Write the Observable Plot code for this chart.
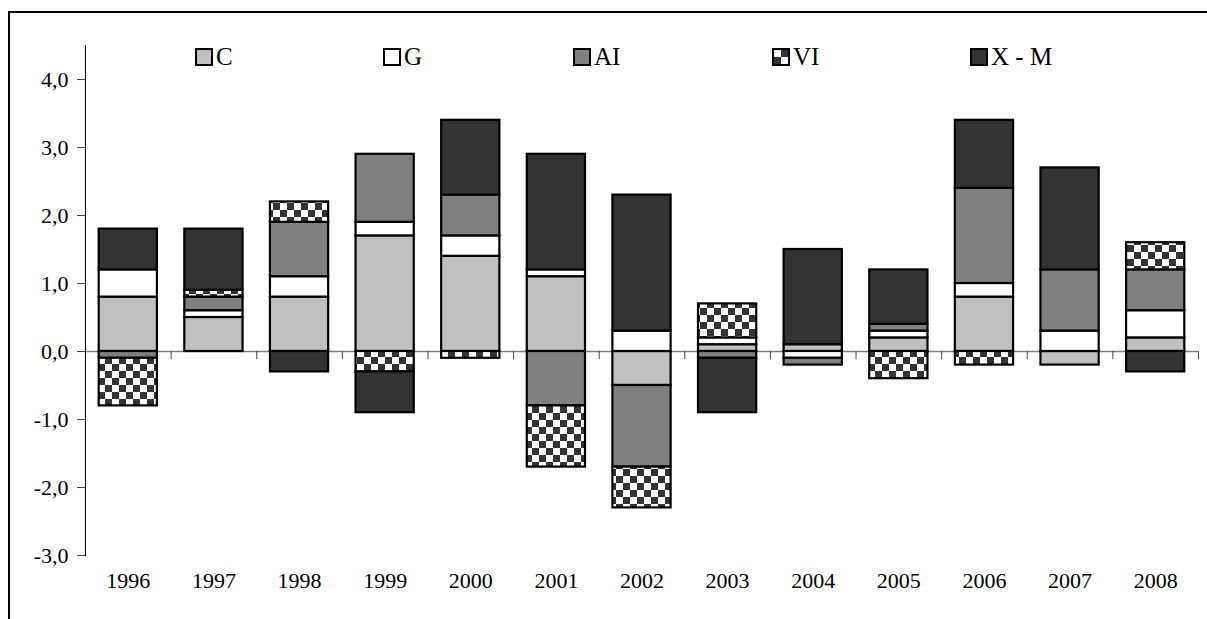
<!DOCTYPE html>
<html>
<head>
<meta charset="utf-8">
<script src="https://cdn.jsdelivr.net/npm/d3@7"></script>
<script src="https://cdn.jsdelivr.net/npm/@observablehq/plot@0.6"></script>
<style>
  html, body { margin: 0; padding: 0; background: #fff; overflow: hidden; }
  #wrap { position: relative; width: 1207px; height: 619px; font-family: "Liberation Serif", "Times New Roman", serif; }
  #border { position: absolute; left: 8px; top: 11px; width: 1300px; height: 800px; border: 2px solid #000; box-sizing: border-box; pointer-events: none; }
  #legend { position: absolute; left: 0; top: 44px; width: 1207px; height: 28px; font-size: 25px; color: #000; }
  .item { position: absolute; top: 0; display: flex; align-items: center; gap: 3px; line-height: 26px; height: 26px; }
  .item svg { display: block; }
  #chart { position: absolute; left: 0; top: 0; }
</style>
</head>
<body>
<div id="wrap">
  <div id="chart"></div>
  <div id="border"></div>
  <div id="legend"></div>
</div>
<script>
const years = ["1996","1997","1998","1999","2000","2001","2002","2003","2004","2005","2006","2007","2008"];
const seriesNames = ["C", "G", "AI", "VI", "X - M"];
const C  = [0.8, 0.5, 0.8, 1.7, 1.4, 1.1, -0.5, 0.1, 0.1, 0.2, 0.8, -0.2, 0.2];
const G  = [0.4, 0.1, 0.3, 0.2, 0.3, 0.1, 0.3, 0.1, -0.1, 0.1, 0.2, 0.3, 0.4];
const AI = [-0.1, 0.2, 0.8, 1.0, 0.6, -0.8, -1.2, -0.1, -0.1, 0.1, 1.4, 0.9, 0.6];
const VI = [-0.7, 0.1, 0.3, -0.3, -0.1, -0.9, -0.6, 0.5, 0, -0.4, -0.2, 0, 0.4];
const XM = [0.6, 0.9, -0.3, -0.6, 1.1, 1.7, 2.0, -0.8, 1.4, 0.8, 1.0, 1.5, -0.3];
const yTicks = [-3, -2, -1, 0, 1, 2, 3, 4];
const seriesFills = ["#c0c0c0", "#ffffff", "#808080", "url(#checker)", "#333333"];
const legendLeft = [195, 383, 573, 772, 970];

const seriesValues = [C, G, AI, VI, XM];
const rows = [];
years.forEach((yr, i) => {
  seriesNames.forEach((s, j) => {
    const v = seriesValues[j][i];
    if (v !== 0) rows.push({year: yr, series: s, value: v});
  });
});

const W = 1207, H = 619;
const mL = 85, mR = 9, mT = 45, mB = 64;
const step = (W - mL - mR) / years.length;
const fmt = d => d.toFixed(1).replace(".", ",");

const plot = Plot.plot({
  width: W, height: H,
  marginLeft: mL, marginRight: mR, marginTop: mT, marginBottom: mB,
  style: {fontFamily: "'Liberation Serif', 'Times New Roman', serif", fontSize: "22px", color: "#000", background: "transparent", overflow: "visible"},
  x: {domain: years, type: "band", paddingInner: 0.32, paddingOuter: 0.16, round: false},
  y: {domain: [-3, 4.5]},
  color: {domain: seriesNames, range: seriesFills},
  marks: [
    Plot.ruleY([0], {stroke: "#808080", strokeWidth: 1.5}),
    Plot.ruleX(years, {x: d => d, y1: 0, y2: -0.12, dx: -step / 2, stroke: "#444", strokeWidth: 1}),
    Plot.ruleX([years[years.length - 1]], {x: d => d, y1: 0, y2: -0.12, dx: step / 2, stroke: "#444", strokeWidth: 1}),
    Plot.rectY(rows, Plot.stackY({x: "year", y: "value", fill: "series", stroke: "#000", strokeWidth: 2.2})),
    Plot.axisY({ticks: yTicks, tickSize: 8, tickPadding: 9, tickFormat: fmt, label: null, stroke: "#444", fontSize: 22}),
    Plot.axisX({tickSize: 0, tickPadding: 17, label: null, fontSize: 22}),
    Plot.frame({anchor: "left", stroke: "#000", strokeWidth: 1})
  ]
});

const defs = d3.select(plot).insert("defs", ":first-child");
const pat = defs.append("pattern").attr("id", "checker").attr("patternUnits", "userSpaceOnUse").attr("width", 14).attr("height", 14);
pat.append("rect").attr("width", 14).attr("height", 14).attr("fill", "#fff");
pat.append("rect").attr("x", 0).attr("y", 0).attr("width", 7).attr("height", 7).attr("fill", "#333");
pat.append("rect").attr("x", 7).attr("y", 7).attr("width", 7).attr("height", 7).attr("fill", "#333");

document.getElementById("chart").appendChild(plot);

// Legend
const legend = document.getElementById("legend");
seriesNames.forEach((s, j) => {
  const item = document.createElement("div");
  item.className = "item";
  item.style.left = legendLeft[j] + "px";
  let sw;
  if (s === "VI") {
    sw = `<svg width="18" height="18"><rect x="1" y="1" width="16" height="16" fill="#fff"/><rect x="9" y="1" width="8" height="8" fill="#333"/><rect x="1" y="9" width="8" height="8" fill="#333"/><rect x="1" y="1" width="16" height="16" fill="none" stroke="#000" stroke-width="2"/></svg>`;
  } else {
    sw = `<svg width="18" height="18"><rect x="1" y="1" width="16" height="16" fill="${seriesFills[j]}" stroke="#000" stroke-width="2"/></svg>`;
  }
  item.innerHTML = sw + `<span>${s}</span>`;
  legend.appendChild(item);
});
</script>
</body>
</html>
